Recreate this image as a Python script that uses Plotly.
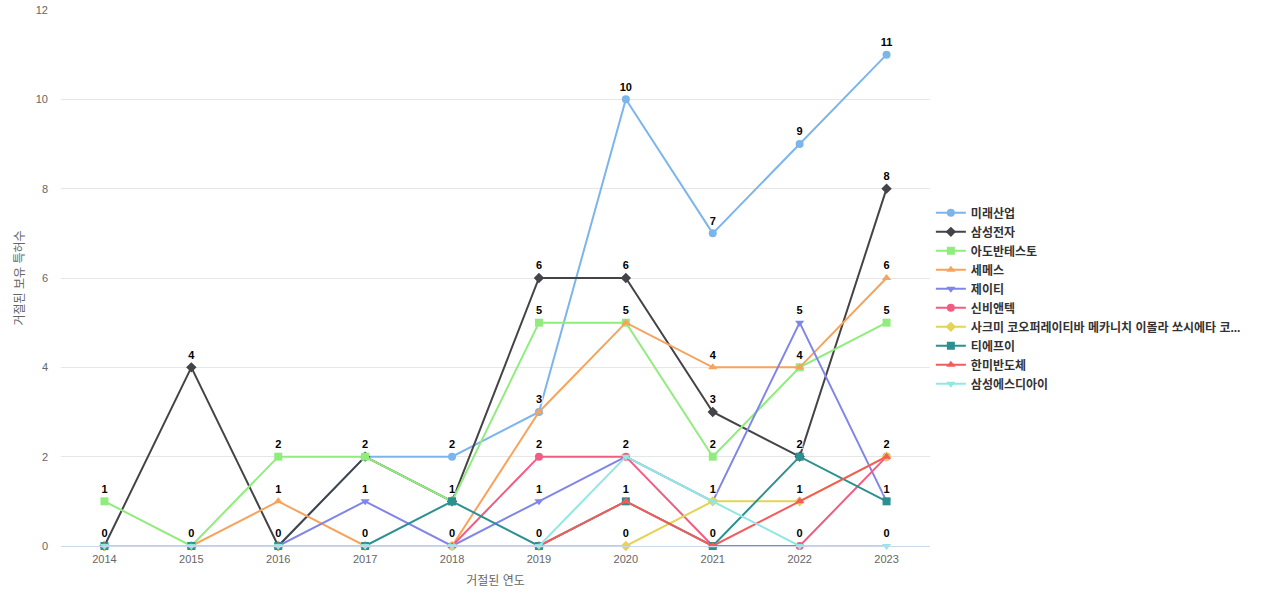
import plotly.graph_objects as go

years = ["2014", "2015", "2016", "2017", "2018", "2019", "2020", "2021", "2022", "2023"]

series_names = [
    "미래산업",
    "삼성전자",
    "아도반테스토",
    "세메스",
    "제이티",
    "신비앤텍",
    "사크미 코오퍼레이티바 메카니치 이몰라 쏘시에타 코...",
    "티에프이",
    "한미반도체",
    "삼성에스디아이",
]

mirae = [0, 0, 0, 2, 2, 3, 10, 7, 9, 11]
samsung = [0, 4, 0, 2, 1, 6, 6, 3, 2, 8]
advantest = [1, 0, 2, 2, 1, 5, 5, 2, 4, 5]
semes = [0, 0, 1, 0, 0, 3, 5, 4, 4, 6]
jt = [0, 0, 0, 1, 0, 1, 2, 1, 5, 1]
shinbi = [0, 0, 0, 0, 0, 2, 2, 0, 0, 2]
sacmi = [0, 0, 0, 0, 0, 0, 0, 1, 1, 2]
tfe = [0, 0, 0, 0, 1, 0, 1, 0, 2, 1]
hanmi = [0, 0, 0, 0, 0, 0, 1, 0, 1, 2]
sdi = [0, 0, 0, 0, 0, 0, 2, 1, 0, 0]

all_values = [mirae, samsung, advantest, semes, jt, shinbi, sacmi, tfe, hanmi, sdi]

colors = ["#7cb5ec", "#434348", "#90ed7d", "#f7a35c", "#8085e9",
          "#f15c80", "#e4d354", "#2b908f", "#f45b5b", "#91e8e1"]
symbols = ["circle", "diamond", "square", "triangle-up", "triangle-down",
           "circle", "diamond", "square", "triangle-up", "triangle-down"]

# Highcharts hides overlapping data labels: only one label per (year, value)
seen = [set() for _ in years]
texts = []
for vals in all_values:
    t = []
    for i, v in enumerate(vals):
        if v in seen[i]:
            t.append("")
        else:
            seen[i].add(v)
            t.append(str(v))
    texts.append(t)

FONT = "Liberation Sans, Noto Sans CJK KR, sans-serif"

fig = go.Figure()
for name, vals, col, sym, txt in zip(series_names, all_values, colors, symbols, texts):
    fig.add_trace(go.Scatter(
        x=years, y=vals, name=name, mode="lines+markers+text",
        line=dict(color=col, width=2),
        marker=dict(color=col, symbol=sym, size=8),
        text=txt, textposition="top center",
        textfont=dict(family=FONT, size=11, color="#000000", weight="bold",
                      shadow="1px 1px 1px white, -1px -1px 1px white, 1px -1px 1px white, -1px 1px 1px white"),
        cliponaxis=False,
    ))

fig.update_layout(
    width=1280, height=600,
    margin=dict(l=61, r=350, t=10, b=54, autoexpand=False),
    paper_bgcolor="white", plot_bgcolor="white",
    font=dict(family=FONT, color="#666666"),
    showlegend=True,
    legend=dict(
        x=1.001, xanchor="left", y=0.462, yanchor="middle",
        font=dict(family=FONT, size=12, color="#333333", weight="bold"),
        tracegroupgap=0, itemwidth=30,
        bgcolor="rgba(0,0,0,0)",
    ),
    xaxis=dict(
        type="category", range=[-0.5, 9.5], automargin=False,
        showgrid=False, showline=True, linecolor="#ccd6eb", linewidth=1,
        ticks="", tickfont=dict(size=11, color="#666666"), ticklabelstandoff=3,
        title=dict(text="거절된 연도", font=dict(size=12, color="#666666"), standoff=12),
        zeroline=False,
    ),
    yaxis=dict(
        range=[0, 12], dtick=2, showgrid=True, gridcolor="#e6e6e6", automargin=False,
        zeroline=False, showline=False,
        tickfont=dict(size=11, color="#666666"), ticks="", ticklabelstandoff=12,
        title=dict(text="거절된 보유 특허수", font=dict(size=12, color="#666666"), standoff=8),
    ),
)

fig.write_html("out.html", config={"displayModeBar": False},
               post_script="document.body.style.margin='0';")
